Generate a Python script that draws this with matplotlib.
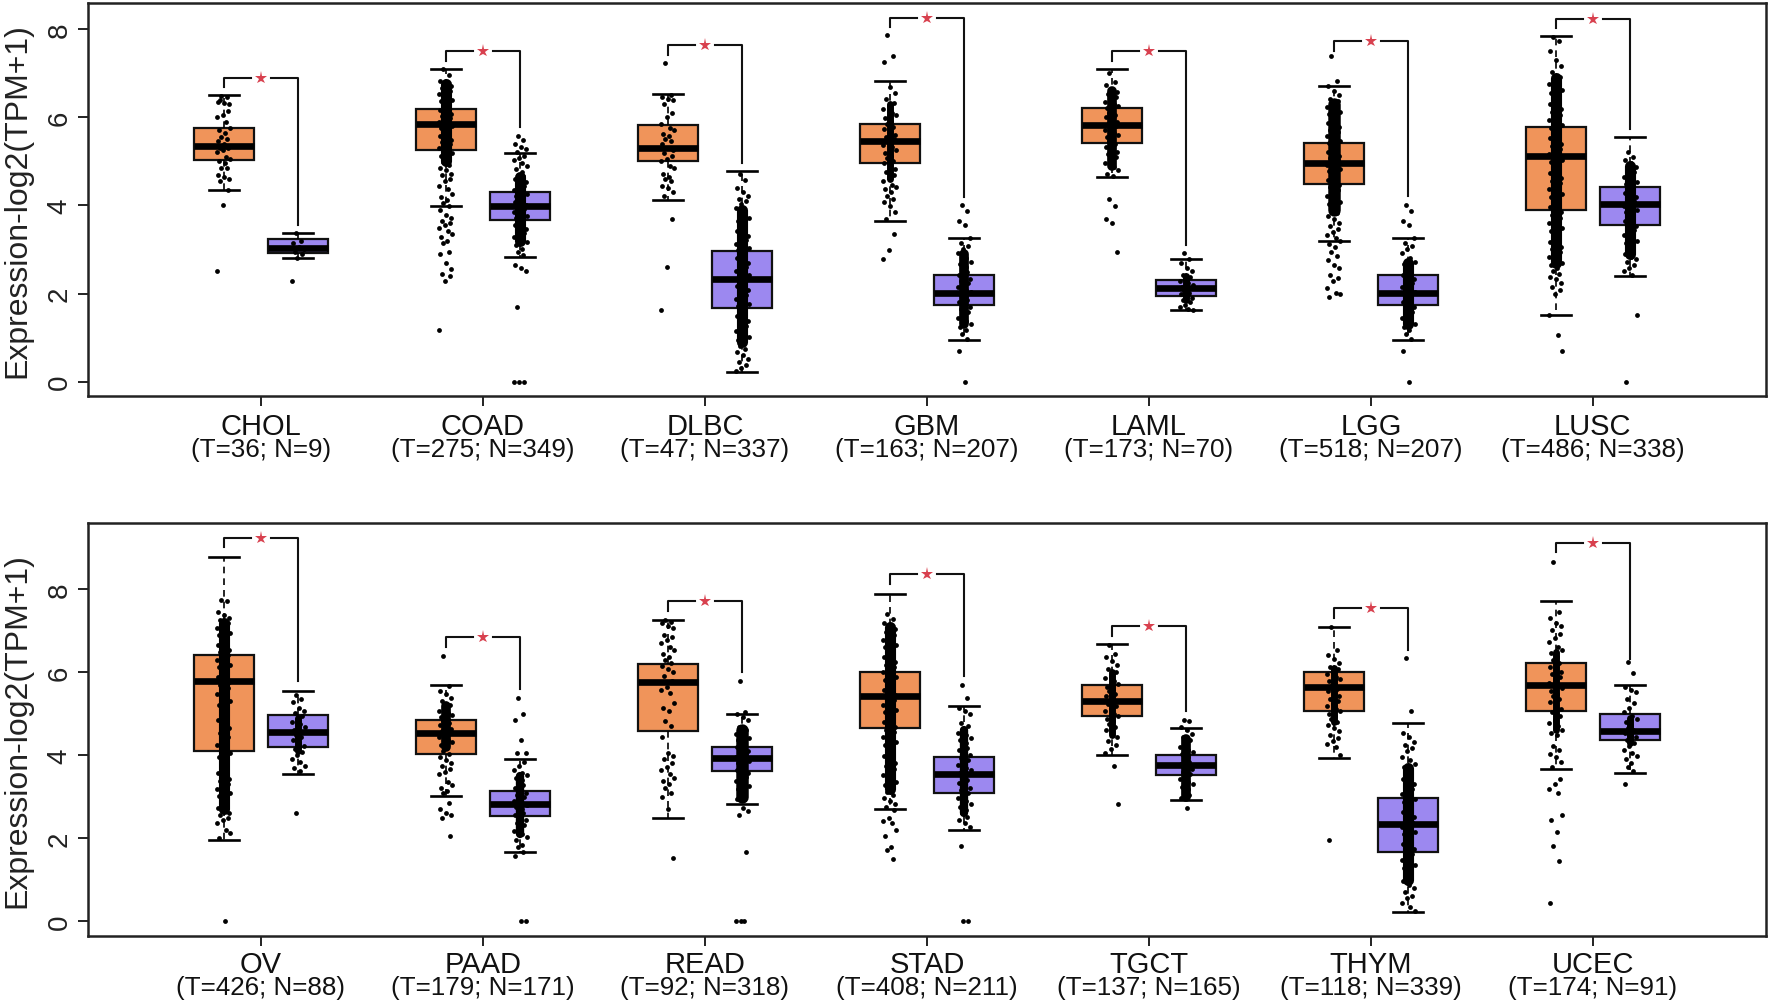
import matplotlib
matplotlib.use('Agg')
import matplotlib.pyplot as plt
from matplotlib.transforms import blended_transform_factory

plt.rcParams['font.family'] = ['Liberation Sans', 'DejaVu Sans']

TOP_NAMES = ['CHOL', 'COAD', 'DLBC', 'GBM', 'LAML', 'LGG', 'LUSC']
TOP_SUBS = ['(T=36; N=9)', '(T=275; N=349)', '(T=47; N=337)', '(T=163; N=207)',
            '(T=173; N=70)', '(T=518; N=207)', '(T=486; N=338)']
BOT_NAMES = ['OV', 'PAAD', 'READ', 'STAD', 'TGCT', 'THYM', 'UCEC']
BOT_SUBS = ['(T=426; N=88)', '(T=179; N=171)', '(T=92; N=318)', '(T=408; N=211)',
            '(T=137; N=165)', '(T=118; N=339)', '(T=174; N=91)']

# low whisker, q1, median, q3, high whisker
TOP_T_BOX = [[4.34, 5.04, 5.35, 5.75, 6.50], [3.99, 5.25, 5.85, 6.18, 7.09],
             [4.12, 5.00, 5.30, 5.83, 6.53], [3.65, 4.95, 5.45, 5.85, 6.82],
             [4.64, 5.41, 5.82, 6.21, 7.09], [3.20, 4.48, 4.96, 5.41, 6.71],
             [1.52, 3.90, 5.11, 5.77, 7.85]]
TOP_N_BOX = [[2.81, 2.93, 3.03, 3.24, 3.37], [2.82, 3.67, 3.99, 4.31, 5.19],
             [0.23, 1.67, 2.34, 2.96, 4.78], [0.95, 1.74, 2.01, 2.41, 3.26],
             [1.62, 1.94, 2.12, 2.31, 2.78], [0.95, 1.74, 2.01, 2.41, 3.26],
             [2.39, 3.56, 4.03, 4.42, 5.56]]
BOT_T_BOX = [[1.96, 4.11, 5.79, 6.42, 8.79], [3.01, 4.03, 4.55, 4.86, 5.69],
             [2.49, 4.59, 5.77, 6.19, 7.27], [2.70, 4.66, 5.43, 6.01, 7.90],
             [4.01, 4.94, 5.31, 5.69, 6.68], [3.93, 5.08, 5.65, 6.00, 7.10],
             [3.67, 5.08, 5.70, 6.23, 7.72]]
BOT_N_BOX = [[3.55, 4.21, 4.57, 4.96, 5.56], [1.67, 2.54, 2.83, 3.15, 3.90],
             [2.83, 3.63, 3.94, 4.20, 5.00], [2.21, 3.10, 3.54, 3.96, 5.20],
             [2.93, 3.52, 3.76, 4.01, 4.65], [0.23, 1.67, 2.34, 2.97, 4.77],
             [3.58, 4.37, 4.59, 5.00, 5.69]]

# bracket: top, left end, right end
TOP_BRACKET = [[6.90, 6.68, 3.55], [7.49, 7.28, 5.78], [7.64, 7.42, 4.96], [8.25, 8.04, 4.20],
               [7.49, 7.27, 3.11], [7.72, 7.51, 4.22], [8.23, 8.02, 5.73]]
BOT_BRACKET = [[9.24, 9.01, 5.80], [6.85, 6.62, 5.59], [7.73, 7.49, 6.01], [8.37, 8.13, 5.92],
               [7.12, 6.88, 5.06], [7.56, 7.32, 6.54], [9.12, 8.89, 6.33]]

# range where the dots overlap into solid black, None where they stay apart
TOP_T_CORE = [None, (5.0, 6.75), None, (4.6, 6.3), (4.9, 6.6), (3.9, 6.3), (2.7, 6.9)]
TOP_N_CORE = [None, (3.2, 4.65), (0.9, 3.9), (1.3, 2.9), (1.85, 2.4), (1.3, 2.7), (2.9, 4.9)]
BOT_T_CORE = [(2.7, 7.2), (4.2, 5.2), None, (3.2, 7.1), (4.5, 6.0), (4.8, 6.1), (4.6, 6.5)]
BOT_N_CORE = [(4.1, 4.9), (2.1, 3.5), (3.0, 4.6), (2.6, 4.6), (3.0, 4.4), (1.0, 3.7), (4.3, 4.9)]

# dots, thinned where the columns are solid black
CHOL_T = [6.48, 6.45, 6.35, 6.33, 6.3, 6.4, 6.15, 6.05, 6.0, 5.9, 5.75, 5.7, 5.65, 5.55, 5.5, 5.45, 5.4, 5.35,
          5.3, 5.3, 5.25, 5.2, 5.1, 5.05, 5.0, 4.95, 4.85, 4.85, 4.7, 4.65, 4.6, 4.55, 4.35, 4.0, 2.5]
CHOL_N = [3.37, 3.2, 3.15, 3.05, 3.0, 2.95, 2.9, 2.8, 2.28]
COAD_T = [7.09, 6.95, 6.82, 6.75, 6.7, 6.66, 6.6, 6.55, 6.52, 6.46, 6.4, 6.37, 6.31, 6.26, 6.22, 6.16, 6.12, 6.08,
          6.03, 5.99, 5.94, 5.9, 5.85, 5.81, 5.76, 5.72, 5.67, 5.62, 5.58, 5.53, 5.49, 5.44, 5.4, 5.35, 5.3, 5.24,
          5.18, 5.12, 5.05, 4.98, 4.92, 4.85, 4.8, 4.72, 4.68, 4.6, 4.55, 4.45, 4.38, 4.25, 4.18, 4.12, 4.05, 3.98,
          3.9, 3.78, 3.72, 3.65, 3.6, 3.55, 3.48, 3.42, 3.35, 3.28, 3.2, 3.15, 2.95, 2.9, 2.7, 2.55, 2.45, 2.4,
          2.28, 1.18]
COAD_N = [5.58, 5.48, 5.4, 5.33, 5.27, 5.2, 5.13, 5.08, 5.02, 4.95, 4.9, 4.82, 4.76, 4.7, 4.66, 4.6, 4.56, 4.52,
          4.47, 4.43, 4.39, 4.35, 4.3, 4.26, 4.22, 4.18, 4.15, 4.11, 4.07, 4.03, 4.0, 3.96, 3.92, 3.88, 3.84, 3.8,
          3.76, 3.72, 3.68, 3.64, 3.6, 3.56, 3.52, 3.47, 3.42, 3.38, 3.33, 3.28, 3.22, 3.16, 3.1, 3.02, 2.95, 2.88,
          2.65, 2.58, 2.52, 1.69, 0.0, 0.0, 0.0]
DLBC_T = [7.22, 6.5, 6.46, 6.42, 6.38, 6.3, 6.1, 6.0, 5.85, 5.75, 5.7, 5.62, 5.58, 5.5, 5.45, 5.4, 5.3, 5.25, 5.18,
          5.12, 5.05, 5.0, 4.9, 4.85, 4.72, 4.65, 4.6, 4.55, 4.45, 4.4, 4.3, 4.22, 3.68, 2.6, 1.63]
DLBC_N = [4.72, 4.58, 4.4, 4.3, 4.22, 4.15, 4.1, 4.02, 3.95, 3.82, 3.72, 3.65, 3.58, 3.52, 3.47, 3.42, 3.36, 3.31,
          3.27, 3.22, 3.17, 3.12, 3.08, 3.03, 2.98, 2.94, 2.89, 2.84, 2.8, 2.75, 2.7, 2.65, 2.6, 2.55, 2.5, 2.46,
          2.41, 2.36, 2.31, 2.27, 2.22, 2.17, 2.12, 2.07, 2.02, 1.97, 1.92, 1.87, 1.82, 1.76, 1.71, 1.66, 1.6, 1.55,
          1.5, 1.44, 1.38, 1.33, 1.27, 1.2, 1.15, 1.08, 1.02, 0.95, 0.88, 0.82, 0.75, 0.68, 0.6, 0.52, 0.45, 0.38,
          0.3, 0.25]
GBM_T = [7.87, 7.38, 7.25, 6.68, 6.55, 6.42, 6.33, 6.25, 6.18, 6.1, 6.04, 5.98, 5.92, 5.85, 5.78, 5.73, 5.66, 5.6,
         5.55, 5.5, 5.45, 5.38, 5.32, 5.25, 5.19, 5.13, 5.08, 5.0, 4.95, 4.9, 4.82, 4.76, 4.7, 4.62, 4.55, 4.47,
         4.42, 4.36, 4.3, 4.22, 4.15, 4.08, 3.98, 3.85, 3.7, 3.36, 2.98, 2.78]
GBM_N = [4.0, 3.88, 3.65, 3.55, 3.25, 3.15, 3.08, 3.02, 2.92, 2.8, 2.72, 2.66, 2.6, 2.54, 2.48, 2.42, 2.37, 2.32,
         2.28, 2.23, 2.18, 2.14, 2.09, 2.04, 2.0, 1.95, 1.9, 1.85, 1.8, 1.75, 1.7, 1.65, 1.58, 1.52, 1.45, 1.38,
         1.3, 1.25, 1.18, 1.08, 0.98, 0.7, 0.0]
LAML_T = [7.0, 6.8, 6.72, 6.65, 6.58, 6.52, 6.45, 6.4, 6.35, 6.3, 6.25, 6.2, 6.15, 6.1, 6.05, 6.0, 5.95, 5.9, 5.85,
          5.8, 5.75, 5.7, 5.65, 5.6, 5.55, 5.5, 5.45, 5.4, 5.33, 5.28, 5.22, 5.16, 5.1, 5.03, 4.95, 4.88, 4.8, 4.72,
          4.66, 4.15, 3.98, 3.68, 3.6, 2.94]
LAML_N = [2.92, 2.78, 2.7, 2.58, 2.5, 2.42, 2.38, 2.32, 2.28, 2.24, 2.19, 2.15, 2.1, 2.06, 2.02, 1.98, 1.94, 1.9,
          1.85, 1.8, 1.75, 1.7, 1.66, 1.63]
LGG_T = [7.38, 6.83, 6.7, 6.6, 6.5, 6.42, 6.36, 6.3, 6.24, 6.18, 6.12, 6.07, 6.02, 5.97, 5.92, 5.87, 5.82, 5.77,
         5.72, 5.67, 5.62, 5.57, 5.52, 5.47, 5.42, 5.37, 5.32, 5.27, 5.22, 5.17, 5.12, 5.07, 5.02, 4.97, 4.92,
         4.87, 4.82, 4.77, 4.72, 4.67, 4.62, 4.57, 4.52, 4.47, 4.42, 4.35, 4.28, 4.22, 4.15, 4.08, 4.02, 3.95,
         3.88, 3.82, 3.75, 3.68, 3.6, 3.53, 3.46, 3.4, 3.32, 3.25, 3.2, 3.12, 3.05, 2.95, 2.85, 2.75, 2.65, 2.57,
         2.42, 2.35, 2.28, 2.12, 2.02, 1.98, 1.93]
LGG_N = [4.0, 3.88, 3.65, 3.55, 3.25, 3.15, 3.08, 3.02, 2.92, 2.8, 2.72, 2.66, 2.6, 2.54, 2.48, 2.42, 2.37, 2.32,
         2.28, 2.23, 2.18, 2.14, 2.09, 2.04, 2.0, 1.95, 1.9, 1.85, 1.8, 1.75, 1.7, 1.65, 1.58, 1.52, 1.45, 1.38,
         1.3, 1.25, 1.18, 1.08, 0.98, 0.7, 0.0]
LUSC_T = [7.82, 7.72, 7.5, 7.3, 7.15, 7.02, 6.92, 6.85, 6.76, 6.7, 6.62, 6.55, 6.48, 6.42, 6.36, 6.3, 6.24, 6.18,
          6.12, 6.06, 6.0, 5.94, 5.88, 5.82, 5.76, 5.7, 5.64, 5.58, 5.52, 5.46, 5.4, 5.34, 5.28, 5.22, 5.16, 5.1,
          5.04, 4.98, 4.92, 4.86, 4.8, 4.74, 4.68, 4.62, 4.56, 4.5, 4.44, 4.38, 4.32, 4.26, 4.2, 4.14, 4.08, 4.02,
          3.96, 3.9, 3.84, 3.78, 3.72, 3.66, 3.6, 3.54, 3.48, 3.42, 3.36, 3.3, 3.24, 3.18, 3.12, 3.06, 3.0, 2.94,
          2.88, 2.82, 2.76, 2.7, 2.64, 2.58, 2.52, 2.45, 2.38, 2.32, 2.25, 2.15, 2.08, 2.0, 1.52, 1.05, 0.7]
LUSC_N = [5.2, 5.1, 5.02, 4.95, 4.88, 4.82, 4.76, 4.7, 4.64, 4.59, 4.54, 4.49, 4.44, 4.39, 4.34, 4.29, 4.24, 4.19,
          4.14, 4.09, 4.04, 3.99, 3.94, 3.89, 3.84, 3.79, 3.74, 3.69, 3.64, 3.59, 3.54, 3.49, 3.44, 3.38, 3.32,
          3.26, 3.2, 3.14, 3.08, 3.02, 2.96, 2.9, 2.84, 2.78, 2.72, 2.65, 2.58, 2.5, 2.42, 1.52, 0.0]

OV_T = [7.75, 7.72, 7.45, 7.38, 7.32, 7.25, 7.2, 7.14, 7.08, 7.02, 6.96, 6.9, 6.84, 6.78, 6.72, 6.66, 6.6, 6.54,
        6.48, 6.42, 6.36, 6.3, 6.24, 6.18, 6.12, 6.06, 6.0, 5.94, 5.88, 5.82, 5.76, 5.7, 5.63, 5.56, 5.48, 5.4,
        5.3, 5.22, 5.12, 5.02, 4.95, 4.85, 4.75, 4.65, 4.55, 4.45, 4.35, 4.25, 4.15, 4.05, 3.95, 3.85, 3.75, 3.65,
        3.58, 3.5, 3.44, 3.38, 3.32, 3.26, 3.2, 3.14, 3.08, 3.02, 2.96, 2.9, 2.82, 2.74, 2.68, 2.62, 2.56, 2.5,
        2.44, 2.38, 2.2, 2.12, 2.0, 0.0]
OV_N = [5.45, 5.35, 5.28, 5.15, 5.08, 5.02, 4.95, 4.88, 4.8, 4.75, 4.68, 4.62, 4.56, 4.5, 4.45, 4.38, 4.3, 4.22,
        4.15, 4.08, 4.0, 3.92, 3.85, 3.75, 3.7, 3.62, 2.62]
PAAD_T = [6.4, 5.66, 5.55, 5.48, 5.38, 5.3, 5.22, 5.18, 5.08, 5.02, 4.98, 4.92, 4.87, 4.82, 4.77, 4.72, 4.68, 4.63,
          4.58, 4.53, 4.48, 4.43, 4.38, 4.32, 4.25, 4.18, 4.1, 4.02, 3.95, 3.88, 3.82, 3.75, 3.68, 3.6, 3.55, 3.35,
          3.28, 3.22, 3.15, 3.08, 2.85, 2.7, 2.62, 2.55, 2.48, 2.05]
PAAD_N = [5.37, 5.0, 4.85, 4.38, 4.05, 4.05, 3.85, 3.75, 3.65, 3.58, 3.52, 3.46, 3.4, 3.34, 3.28, 3.22, 3.16, 3.1,
          3.05, 3.0, 2.95, 2.9, 2.85, 2.8, 2.75, 2.7, 2.65, 2.6, 2.55, 2.5, 2.44, 2.38, 2.32, 2.25, 2.18, 2.1, 2.02,
          1.95, 1.85, 1.78, 1.68, 1.58, 0.0, 0.0]
READ_T = [7.25, 7.22, 7.18, 7.12, 7.08, 6.9, 6.85, 6.78, 6.7, 6.62, 6.55, 6.45, 6.38, 6.3, 6.22, 6.15, 6.08, 6.0,
          5.92, 5.8, 5.65, 5.58, 5.5, 5.25, 5.15, 5.08, 4.82, 4.7, 4.45, 4.05, 3.98, 3.9, 3.82, 3.72, 3.65, 3.55,
          3.45, 3.38, 3.3, 3.22, 3.1, 3.0, 2.7, 1.53]
READ_N = [5.8, 5.05, 5.0, 4.92, 4.85, 4.68, 4.62, 4.57, 4.52, 4.47, 4.42, 4.38, 4.33, 4.29, 4.24, 4.2, 4.16, 4.11,
          4.07, 4.03, 3.99, 3.95, 3.9, 3.86, 3.82, 3.78, 3.74, 3.7, 3.65, 3.61, 3.57, 3.52, 3.47, 3.42, 3.38, 3.32,
          3.26, 3.2, 3.15, 3.08, 3.0, 2.95, 2.72, 2.65, 2.55, 1.68, 0.0, 0.0, 0.0]
STAD_T = [7.4, 7.28, 7.2, 7.12, 7.05, 6.98, 6.9, 6.84, 6.78, 6.72, 6.66, 6.6, 6.54, 6.48, 6.42, 6.36, 6.3, 6.24,
          6.18, 6.12, 6.06, 6.0, 5.94, 5.88, 5.82, 5.76, 5.7, 5.64, 5.58, 5.52, 5.46, 5.4, 5.34, 5.28, 5.22, 5.16,
          5.1, 5.04, 4.98, 4.92, 4.86, 4.8, 4.74, 4.68, 4.62, 4.56, 4.5, 4.44, 4.38, 4.32, 4.25, 4.18, 4.12, 4.05,
          3.98, 3.9, 3.82, 3.75, 3.68, 3.6, 3.52, 3.44, 3.35, 3.28, 3.2, 3.12, 3.05, 2.98, 2.9, 2.82, 2.75, 2.68,
          2.5, 2.42, 2.36, 2.2, 2.05, 1.8, 1.72, 1.5]
STAD_N = [5.7, 5.38, 5.15, 5.08, 5.0, 4.78, 4.7, 4.62, 4.55, 4.48, 4.42, 4.36, 4.3, 4.24, 4.18, 4.12, 4.06, 4.0,
          3.94, 3.88, 3.82, 3.76, 3.7, 3.64, 3.58, 3.52, 3.46, 3.4, 3.34, 3.28, 3.22, 3.16, 3.1, 3.03, 2.96, 2.9,
          2.82, 2.75, 2.68, 2.6, 2.52, 2.44, 2.36, 2.28, 1.82, 0.0, 0.0]
TGCT_T = [6.65, 6.45, 6.38, 6.28, 6.18, 6.08, 6.0, 5.92, 5.86, 5.78, 5.72, 5.65, 5.6, 5.54, 5.48, 5.42, 5.36, 5.3,
          5.24, 5.18, 5.12, 5.06, 5.0, 4.94, 4.88, 4.82, 4.75, 4.68, 4.6, 4.52, 4.45, 4.35, 4.25, 4.15, 4.05, 3.75,
          2.82]
TGCT_N = [4.85, 4.82, 4.68, 4.6, 4.52, 4.44, 4.36, 4.28, 4.2, 4.14, 4.08, 4.02, 3.96, 3.9, 3.84, 3.78, 3.72, 3.66,
          3.6, 3.54, 3.48, 3.42, 3.36, 3.3, 3.24, 3.18, 3.12, 3.05, 2.98, 2.74]
THYM_T = [7.1, 6.55, 6.42, 6.32, 6.22, 6.14, 6.08, 6.02, 5.96, 5.9, 5.84, 5.78, 5.72, 5.66, 5.6, 5.54, 5.48, 5.42,
          5.36, 5.3, 5.24, 5.18, 5.12, 5.06, 5.0, 4.94, 4.88, 4.8, 4.72, 4.65, 4.58, 4.5, 4.42, 4.35, 4.28, 4.2, 4.0,
          1.95]
THYM_N = [6.35, 5.07, 4.55, 4.45, 4.32, 4.25, 4.18, 4.1, 3.95, 3.88, 3.8, 3.72, 3.62, 3.55, 3.48, 3.42, 3.36, 3.3,
          3.24, 3.18, 3.12, 3.06, 3.0, 2.94, 2.88, 2.82, 2.76, 2.7, 2.64, 2.58, 2.52, 2.46, 2.4, 2.34, 2.28, 2.22,
          2.16, 2.1, 2.04, 1.98, 1.92, 1.86, 1.8, 1.74, 1.68, 1.62, 1.55, 1.48, 1.42, 1.35, 1.28, 1.2, 1.12, 1.05,
          0.98, 0.88, 0.8, 0.7, 0.62, 0.55, 0.45, 0.35, 0.25]
UCEC_T = [8.66, 7.45, 7.32, 7.2, 7.12, 7.02, 6.92, 6.82, 6.72, 6.62, 6.54, 6.46, 6.38, 6.3, 6.22, 6.14, 6.08, 6.02,
          5.95, 5.88, 5.82, 5.75, 5.68, 5.62, 5.55, 5.48, 5.42, 5.35, 5.28, 5.2, 5.12, 5.05, 4.95, 4.85, 4.78, 4.7,
          4.62, 4.55, 4.48, 4.22, 4.12, 4.02, 3.95, 3.85, 3.72, 3.42, 3.3, 3.2, 3.1, 2.55, 2.45, 2.15, 1.82, 1.45, 0.45]
UCEC_N = [6.25, 5.98, 5.65, 5.58, 5.52, 5.35, 5.25, 5.15, 5.05, 4.95, 4.88, 4.8, 4.72, 4.66, 4.6, 4.55, 4.5, 4.44,
          4.38, 4.3, 4.22, 4.14, 4.06, 3.98, 3.9, 3.82, 3.72, 3.62, 3.32]

TOP_T_DOTS = [CHOL_T, COAD_T, DLBC_T, GBM_T, LAML_T, LGG_T, LUSC_T]
TOP_N_DOTS = [CHOL_N, COAD_N, DLBC_N, GBM_N, LAML_N, LGG_N, LUSC_N]
BOT_T_DOTS = [OV_T, PAAD_T, READ_T, STAD_T, TGCT_T, THYM_T, UCEC_T]
BOT_N_DOTS = [OV_N, PAAD_N, READ_N, STAD_N, TGCT_N, THYM_N, UCEC_N]

# fixed strip offsets, fraction of one category step
JITTER = [-0.010, 0.014, -0.024, 0.003, 0.026, -0.016, 0.019, -0.004, -0.028, 0.009, 0.029, -0.020, 0.006]

# line width of the solid part of each column
TOP_T_CORE_W = [0, 8, 0, 5, 7, 9, 8]
TOP_N_CORE_W = [0, 8, 8, 7, 5, 8, 8]
BOT_T_CORE_W = [8, 7, 0, 8, 5, 5, 5]
BOT_N_CORE_W = [5, 6, 9, 6, 7, 8, 5]

ORANGE = '#F0945A'
PURPLE = '#9C88F0'
DARK = '#222222'
W, H = 1770, 1003
OFF = 0.168
BOX_W = 0.27


def box_stats(rows):
    return [dict(whislo=r[0], q1=r[1], med=r[2], q3=r[3], whishi=r[4]) for r in rows]


def draw_boxes(ax, rows, xs, color):
    ax.bxp(box_stats(rows), positions=xs, widths=BOX_W, patch_artist=True, showfliers=False,
           manage_ticks=False, capwidths=0.135,
           boxprops=dict(facecolor=color, edgecolor='#111111', linewidth=1.6),
           medianprops=dict(color='black', linewidth=4.8, solid_capstyle='butt'),
           whiskerprops=dict(color='black', linewidth=1.2, linestyle=(0, (4, 3))),
           capprops=dict(color='black', linewidth=1.9),
           zorder=2)


def draw_dots(ax, dots, cores, core_w, xs):
    for x0, vals, core, cw in zip(xs, dots, cores, core_w):
        if core:
            ax.plot([x0, x0], core, color='black', lw=cw, solid_capstyle='round', zorder=3)
        xx = [x0 + JITTER[i % len(JITTER)] for i in range(len(vals))]
        ax.scatter(xx, vals, s=12, color='black', linewidths=0, zorder=3)


def panel(y0, y1, ylim, names, subs, t_box, n_box, t_dots, n_dots, t_core, n_core, t_cw, n_cw,
          bracket, yticks, ylab_y, lab_shift):
    ax = fig.add_axes([88 / W, 1 - y1 / H, (1766 - 88) / W, (y1 - y0) / H])
    cats = list(range(len(names)))
    t_x = [c - OFF for c in cats]
    n_x = [c + OFF for c in cats]
    draw_boxes(ax, t_box, t_x, ORANGE)
    draw_boxes(ax, n_box, n_x, PURPLE)
    draw_dots(ax, t_dots, t_core, t_cw, t_x)
    draw_dots(ax, n_dots, n_core, n_cw, n_x)

    for c, (top, left, right) in zip(cats, bracket):
        ax.plot([c - OFF, c - OFF, c - 0.045], [left, top, top], color='#111111', lw=1.5, zorder=1)
        ax.plot([c + 0.045, c + OFF, c + OFF], [top, top, right], color='#111111', lw=1.5, zorder=1)
        ax.plot([c], [top], marker='*', color='#D8404E', ms=9.5, mew=0, zorder=4)

    ax.set_xlim(-0.779, 6.78)
    ax.set_ylim(*ylim)
    ax.set_xticks(cats)
    ax.set_xticklabels([])
    ax.set_yticks(yticks)
    ax.set_yticklabels([str(t) for t in yticks], rotation=90, va='center', fontsize=20, color='#222222')
    ax.tick_params(axis='both', length=7, width=1.4, color=DARK)
    ax.tick_params(axis='y', pad=4)
    for s in ax.spines.values():
        s.set_linewidth(1.8)
        s.set_color(DARK)

    tr = blended_transform_factory(ax.transData, ax.transAxes)
    for c, name, sub in zip(cats, names, subs):
        ax.annotate(name, (c, 0), xycoords=tr, xytext=(0, -21.5 + lab_shift), textcoords='offset points',
                    ha='center', va='center', fontsize=21, color='#111111')
        ax.annotate(sub, (c, 0), xycoords=tr, xytext=(0, -38 + lab_shift), textcoords='offset points',
                    ha='center', va='center', fontsize=18.7, color='#111111')
    fig.text(17 / W, 1 - ylab_y / H, 'Expression-log2(TPM+1)', rotation=90, ha='center', va='center',
             fontsize=23, color='#222222')
    return ax


fig = plt.figure(figsize=(W / 100, H / 100), dpi=100)
panel(4, 397, (-0.324, 8.59), TOP_NAMES, TOP_SUBS, TOP_T_BOX, TOP_N_BOX, TOP_T_DOTS, TOP_N_DOTS,
      TOP_T_CORE, TOP_N_CORE, TOP_T_CORE_W, TOP_N_CORE_W, TOP_BRACKET, [0, 2, 4, 6, 8], 201, 0)
panel(524, 937, (-0.355, 9.6), BOT_NAMES, BOT_SUBS, BOT_T_BOX, BOT_N_BOX, BOT_T_DOTS, BOT_N_DOTS,
      BOT_T_CORE, BOT_N_CORE, BOT_T_CORE_W, BOT_N_CORE_W, BOT_BRACKET, [0, 2, 4, 6, 8], 731, 1.2)
fig.savefig('out.png', dpi=100)
